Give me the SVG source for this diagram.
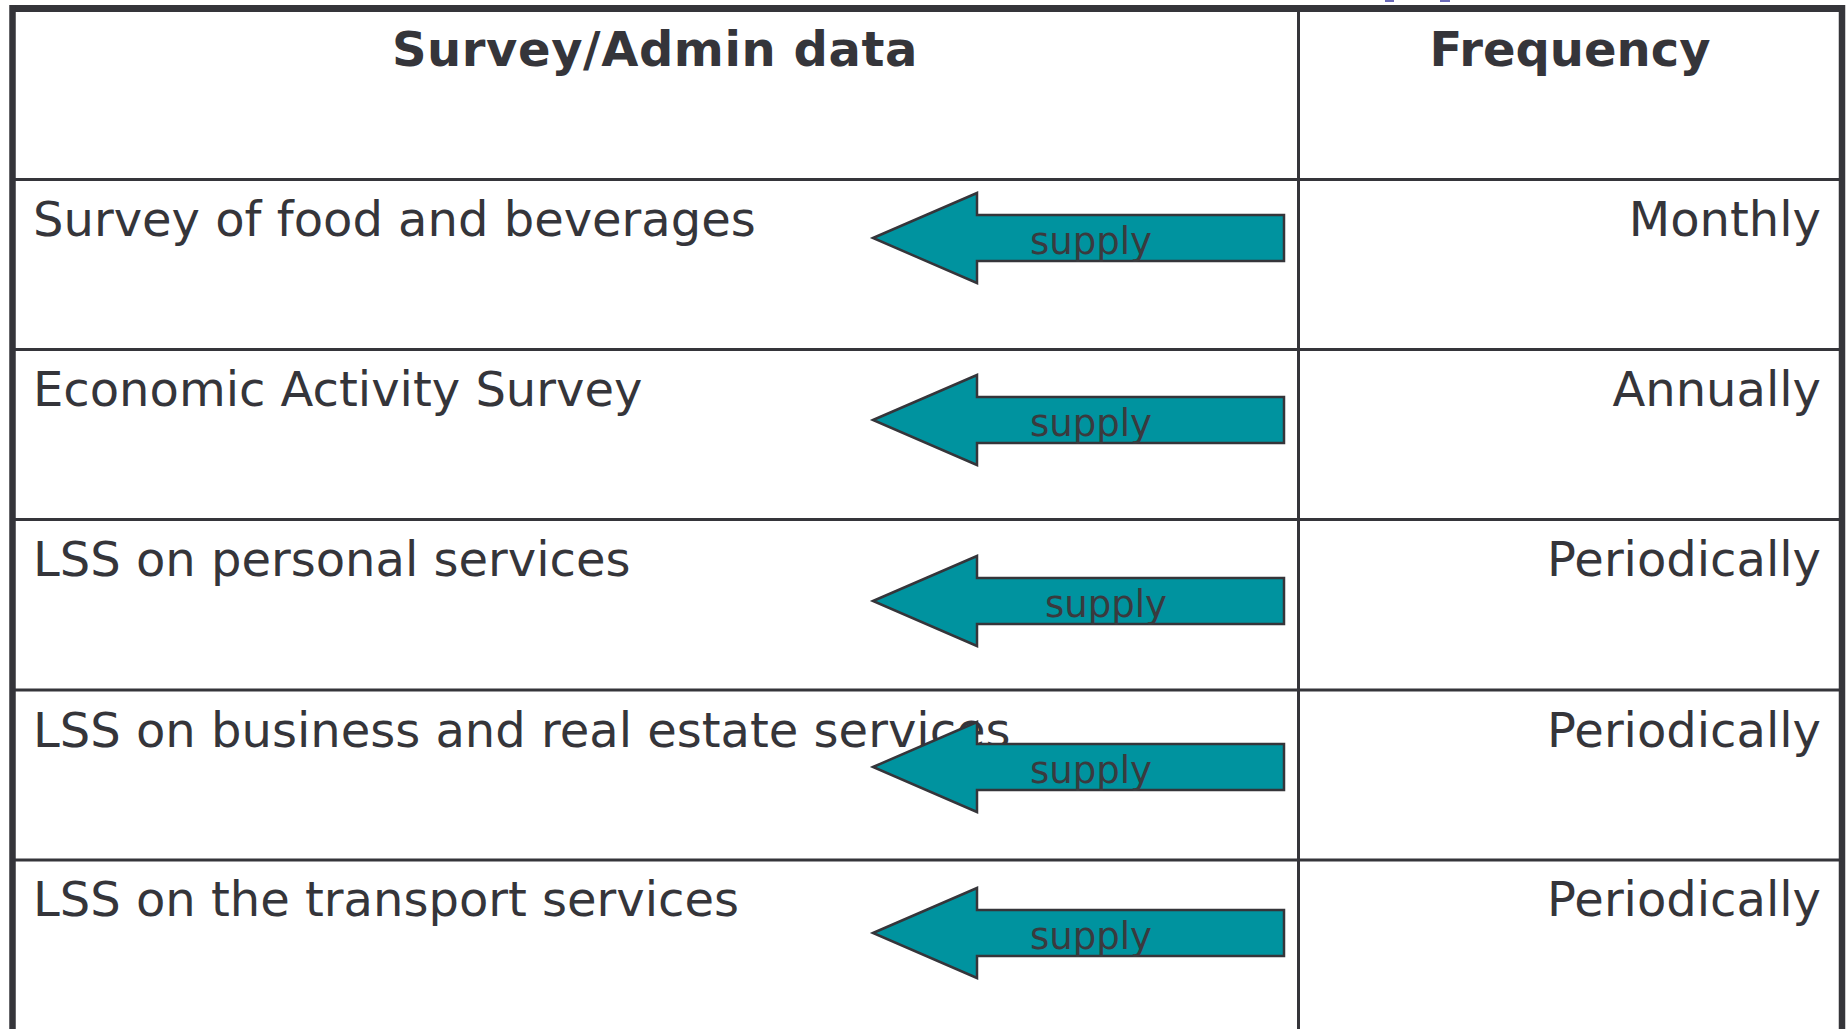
<svg xmlns="http://www.w3.org/2000/svg" width="1848" height="1029" viewBox="0 0 1848 1029">
<style>
.bd{stroke:#35353a;fill:none}
.hd{font-family:"DejaVu Sans","Verdana",sans-serif;font-weight:bold;font-size:48px;fill:#35353a;text-anchor:middle}
.tx{font-family:"DejaVu Sans","Verdana",sans-serif;font-size:48px;fill:#35353a}
.fr{font-family:"DejaVu Sans","Verdana",sans-serif;font-size:48px;fill:#35353a;text-anchor:end}
.sp{font-family:"DejaVu Sans","Verdana",sans-serif;font-size:37px;fill:#3a3a3e}
.ar{fill:#00939f;stroke:#35353a;stroke-width:2.5;stroke-linejoin:miter}
</style>
<defs>
<path id="arrow" class="ar" d="M873,0 L977,-45 L977,-23 L1284,-23 L1284,23 L977,23 L977,45 Z"/>
</defs>
<rect width="1848" height="1029" fill="#ffffff"/>
<rect x="1385" y="0" width="9" height="2" fill="#6a6ab8"/>
<rect x="1440" y="0" width="10" height="2" fill="#6a6ab8"/>
<g id="grid">
<line class="bd" x1="12" y1="8.5" x2="1845" y2="8.5" stroke-width="7"/>
<line class="bd" x1="12.5" y1="5" x2="12.5" y2="1029" stroke-width="6.5"/>
<line class="bd" x1="1842" y1="5" x2="1842" y2="1029" stroke-width="6.5"/>
<line class="bd" x1="1298.5" y1="8" x2="1298.5" y2="1029" stroke-width="3"/>
<line class="bd" x1="12" y1="179.5" x2="1842" y2="179.5" stroke-width="3"/>
<line class="bd" x1="12" y1="349.5" x2="1842" y2="349.5" stroke-width="3"/>
<line class="bd" x1="12" y1="519.5" x2="1842" y2="519.5" stroke-width="3"/>
<line class="bd" x1="12" y1="690" x2="1842" y2="690" stroke-width="3"/>
<line class="bd" x1="12" y1="860" x2="1842" y2="860" stroke-width="3"/>
</g>
<g id="header">
<text class="hd" x="655" y="66" letter-spacing="0.6">Survey/Admin data</text>
<text class="hd" x="1570" y="66">Frequency</text>
</g>
<g id="row1">
<text class="tx" x="33" y="236">Survey of food and beverages</text>
<text class="fr" x="1821" y="236">Monthly</text>
</g>
<g id="row2">
<text class="tx" x="33" y="406">Economic Activity Survey</text>
<text class="fr" x="1821" y="406">Annually</text>
</g>
<g id="row3">
<text class="tx" x="33" y="576">LSS on personal services</text>
<text class="fr" x="1821" y="576">Periodically</text>
</g>
<g id="row4">
<text class="tx" x="33" y="747">LSS on business and real estate services</text>
<text class="fr" x="1821" y="747">Periodically</text>
</g>
<g id="row5">
<text class="tx" x="33" y="916">LSS on the transport services</text>
<text class="fr" x="1821" y="916">Periodically</text>
</g>
<g id="connectors">
<use href="#arrow" y="238"/>
<text class="sp" x="1030" y="254">supply</text>
<use href="#arrow" y="420"/>
<text class="sp" x="1030" y="436">supply</text>
<use href="#arrow" y="601"/>
<text class="sp" x="1045" y="617">supply</text>
<use href="#arrow" y="767"/>
<text class="sp" x="1030" y="783">supply</text>
<use href="#arrow" y="933"/>
<text class="sp" x="1030" y="949">supply</text>
</g>
</svg>
